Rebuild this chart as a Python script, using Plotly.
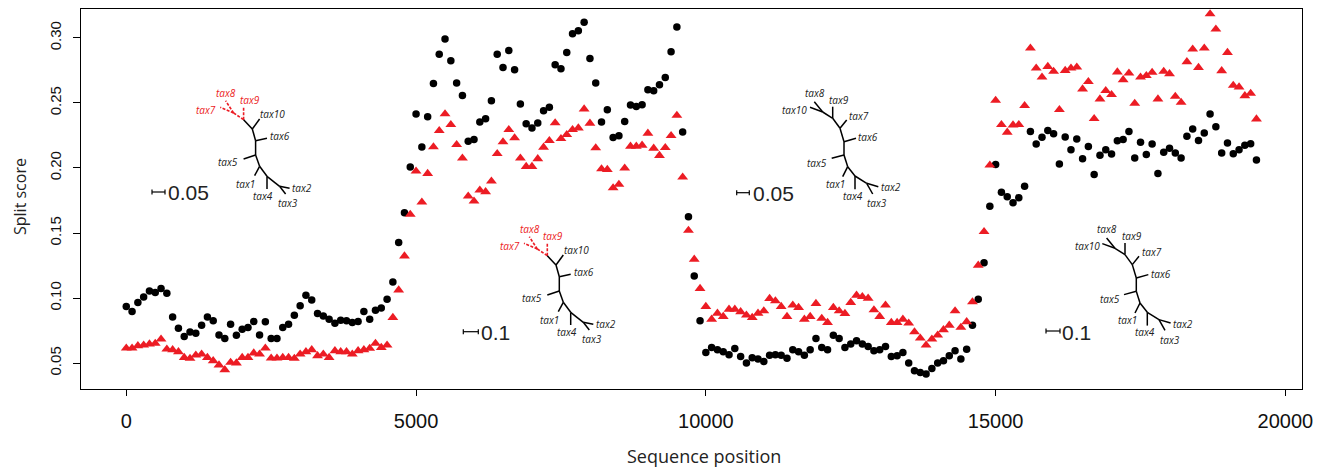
import plotly.graph_objects as go

# ---------------- data ----------------
positions = list(range(0, 19600, 100))

black_scores = [
    0.0935, 0.0896, 0.0965, 0.1009, 0.1055, 0.1042, 0.1073, 0.1037, 0.0855, 0.0768,
    0.0705, 0.0740, 0.0730, 0.0791, 0.0855, 0.0825, 0.0717, 0.0689, 0.0799, 0.0715,
    0.0761, 0.0774, 0.0820, 0.0717, 0.0817, 0.0689, 0.0689, 0.0774, 0.0799, 0.0868,
    0.0940, 0.1021, 0.0986, 0.0881, 0.0863, 0.0837, 0.0807, 0.0830, 0.0825, 0.0812,
    0.0820, 0.0896, 0.0837, 0.0906, 0.0924, 0.0991, 0.1124, 0.1428,
    0.1656, 0.2008, 0.2415, 0.2162, 0.2394, 0.2650, 0.2875, 0.2992, 0.2824, 0.2653,
    0.2558, 0.2205, 0.2218, 0.2353, 0.2379, 0.2517, 0.2875, 0.2772, 0.2903, 0.2755,
    0.2491, 0.2340, 0.2307, 0.2346, 0.2440, 0.2466, 0.2793, 0.2762, 0.2887, 0.3031,
    0.3054, 0.3120, 0.2841, 0.2653, 0.2353, 0.2448, 0.2235, 0.2248, 0.2358, 0.2484,
    0.2473, 0.2486, 0.2601, 0.2594, 0.2640, 0.2696, 0.2893, 0.3084, 0.2277, 0.1625,
    0.1170, 0.0825, 0.0582, 0.0620, 0.0602, 0.0587, 0.0564, 0.0613, 0.0551, 0.0500,
    0.0541, 0.0531, 0.0513, 0.0561, 0.0564, 0.0561, 0.0538, 0.0602, 0.0587, 0.0561,
    0.0602, 0.0689, 0.0620, 0.0602, 0.0715, 0.0689, 0.0620, 0.0646, 0.0671, 0.0646,
    0.0628, 0.0595, 0.0602, 0.0628, 0.0551, 0.0556, 0.0582, 0.0500, 0.0441, 0.0428,
    0.0416, 0.0459, 0.0500, 0.0518, 0.0556, 0.0595, 0.0531, 0.0607, 0.0791, 0.0991,
    0.1272,
    0.1706, 0.2026, 0.1814, 0.1778, 0.1732, 0.1771, 0.1860, 0.2281, 0.2185, 0.2236,
    0.2289, 0.2264, 0.2031, 0.2238, 0.2141, 0.2223, 0.2070, 0.2166, 0.1949, 0.2097,
    0.2141, 0.2108, 0.2210, 0.2218, 0.2281, 0.2077, 0.2197, 0.2103, 0.2185, 0.1957,
    0.2120, 0.2151, 0.2116, 0.2077, 0.2243, 0.2300, 0.2212, 0.2269, 0.2415, 0.2317,
    0.2116, 0.2192, 0.2110, 0.2141, 0.2174, 0.2187, 0.2062,
]

red_scores = [
    0.0615, 0.0615, 0.0633, 0.0638, 0.0646, 0.0651, 0.0684, 0.0607, 0.0602, 0.0587,
    0.0543, 0.0536, 0.0561, 0.0569, 0.0543, 0.0518, 0.0485, 0.0449, 0.0505, 0.0500,
    0.0543, 0.0543, 0.0577, 0.0569, 0.0615, 0.0538, 0.0538, 0.0543, 0.0543, 0.0536,
    0.0569, 0.0587, 0.0602, 0.0556, 0.0569, 0.0543, 0.0595, 0.0587, 0.0587, 0.0569,
    0.0595, 0.0602, 0.0613, 0.0651, 0.0620, 0.0638, 0.0850, 0.1062, 0.1323,
    0.1643, 0.1975, 0.1737, 0.1957, 0.2162, 0.2287, 0.2415, 0.2333, 0.2179, 0.2075,
    0.1783, 0.1745, 0.1829, 0.1817, 0.1898, 0.2110, 0.2200, 0.2294, 0.2231, 0.2075,
    0.2011, 0.2011, 0.2070, 0.2159, 0.2210, 0.2346, 0.2225, 0.2256, 0.2294, 0.2307,
    0.2453, 0.2343, 0.2154, 0.1993, 0.1988, 0.1847, 0.1873, 0.1998, 0.2167, 0.2167,
    0.2174, 0.2266, 0.2151, 0.2095, 0.2156, 0.2248, 0.2404, 0.1929, 0.1520,
    0.1298, 0.1073, 0.0935, 0.0837, 0.0883, 0.0858, 0.0914, 0.0914, 0.0894, 0.0868,
    0.0850, 0.0883, 0.0901, 0.0996, 0.0978, 0.0935, 0.0858, 0.0945, 0.0927, 0.0837,
    0.0858, 0.0958, 0.0843, 0.0812, 0.0927, 0.0901, 0.0881, 0.0965, 0.1021, 0.1011,
    0.0998, 0.0909, 0.0858, 0.0945, 0.0812, 0.0812, 0.0837, 0.0807, 0.0740, 0.0692,
    0.0638, 0.0684, 0.0715, 0.0756, 0.0791, 0.0901, 0.0774, 0.0817, 0.0970, 0.1252,
    0.1510,
    0.2021, 0.2519, 0.2333, 0.2274, 0.2330, 0.2333, 0.2479, 0.2921, 0.2767, 0.2698,
    0.2780, 0.2742, 0.2448, 0.2749, 0.2767, 0.2775, 0.2607, 0.2663, 0.2379, 0.2530,
    0.2594, 0.2563, 0.2737, 0.2678, 0.2729, 0.2496, 0.2698, 0.2709, 0.2734, 0.2530,
    0.2742, 0.2724, 0.2550, 0.2504, 0.2816, 0.2913, 0.2772, 0.2921, 0.3184, 0.3067,
    0.2747, 0.2887, 0.2634, 0.2622, 0.2555, 0.2573, 0.2376,
]

x_ticks = [0, 5000, 10000, 15000, 20000]
x_tick_labels = ["0", "5000", "10000", "15000", "20000"]
y_ticks = [0.05, 0.10, 0.15, 0.20, 0.25, 0.30]
y_tick_labels = ["0.05", "0.10", "0.15", "0.20", "0.25", "0.30"]

x_title = "Sequence position"
y_title = "Split score"

# ---------------- figure ----------------
W, H = 1326, 469
L, R, T, B = 81, 1302, 9, 389

RED = "#EC1C24"

fig = go.Figure()
fig.add_trace(go.Scatter(
    x=positions, y=black_scores, mode="markers",
    marker=dict(symbol="circle", size=7.5, color="black", line=dict(width=0)),
    showlegend=False, hoverinfo="x+y"))
fig.add_trace(go.Scatter(
    x=positions, y=red_scores, mode="markers",
    marker=dict(symbol="triangle-up", size=9.5, color=RED, line=dict(width=0)),
    showlegend=False, hoverinfo="x+y"))


def P(px, py):
    return (px - L) / (R - L), (B - py) / (B - T)


shapes = []
annotations = []


def seg(p0, p1, color="black", width=1.5, dash="solid"):
    x0, y0 = P(*p0)
    x1, y1 = P(*p1)
    shapes.append(dict(type="line", xref="paper", yref="paper",
                       x0=x0, y0=y0, x1=x1, y1=y1,
                       line=dict(color=color, width=width, dash=dash)))


def label(px, py, text, color="#222222", size=10, anchor="center",
          family="Open Sans", italic=True):
    x, y = P(px, py)
    annotations.append(dict(xref="paper", yref="paper", x=x, y=y,
                            text=("<i>%s</i>" % text) if italic else text,
                            showarrow=False, xanchor=anchor, yanchor="middle",
                            font=dict(family=family, size=size, color=color)))


# tree shape A (tax7/8/9 highlighted in red, dashed)
A_red = [((-10, -6.7), (-23.3, -12.4)), ((-10, -6.7), (-18, -19)),
         ((0, 0), (-10, -6.7)), ((0, 0), (0, -12.4))]
A_back = [(0, 0), (8.7, 9.3), (12, 21), (12, 35.3), (16, 46.6), (23.4, 56.6), (36, 66.6)]
A_br = [((8.7, 9.3), (16, -0.7)), ((12, 21), (23.4, 18.6)), ((12, 35.3), (0, 39.3)),
        ((16, 46.6), (11, 56)), ((23.4, 56.6), (23.4, 69.3)),
        ((36, 66.6), (46, 68.6)), ((36, 66.6), (42, 74.3))]
A_lab = [("tax8", -17.3, -26.7, True), ("tax7", -37.3, -9.7, True), ("tax9", 6, -20, True),
         ("tax10", 28.7, -5.7, False), ("tax6", 36.7, 16.6, False), ("tax5", -15.6, 42.6, False),
         ("tax1", 2, 64.3, False), ("tax4", 19.4, 76.6, False), ("tax2", 58.4, 68.3, False),
         ("tax3", 44.4, 83.6, False)]

# tree shape B (all black)
B_back = [(0, 0), (10, 6.3), (17.3, 16.3), (21.3, 29.7), (21.3, 43), (25, 54.7), (32.3, 64), (44, 71.3)]
B_br = [((0, 0), (-8.4, -10.3)), ((0, 0), (-12.7, -4.7)), ((10, 6.3), (10, -5.3)),
        ((17.3, 16.3), (24, 8)), ((21.3, 29.7), (33.3, 26.3)), ((21.3, 43), (9, 46.3)),
        ((25, 54.7), (20, 64.7)), ((32.3, 64), (32.3, 77.3)),
        ((44, 71.3), (55.6, 74.7)), ((44, 71.3), (50, 82))]
B_lab = [("tax8", -7.7, -19.3), ("tax10", -27.7, -2), ("tax9", 16.6, -12), ("tax7", 36.6, 4),
         ("tax6", 45.6, 25.3), ("tax5", -5.4, 50.7), ("tax1", 12.3, 72), ("tax4", 30, 84),
         ("tax2", 68, 75.3), ("tax3", 54.6, 91.3)]


def add_tree_A(ox, oy):
    for a, b in A_red:
        seg((ox + a[0], oy + a[1]), (ox + b[0], oy + b[1]), color=RED, width=1.6, dash="3px,1.5px")
    for p, q in zip(A_back[:-1], A_back[1:]):
        seg((ox + p[0], oy + p[1]), (ox + q[0], oy + q[1]))
    for a, b in A_br:
        seg((ox + a[0], oy + a[1]), (ox + b[0], oy + b[1]))
    for t, dx, dy, red in A_lab:
        label(ox + dx, oy + dy, t, color=RED if red else "#222222")


def add_tree_B(ox, oy):
    for p, q in zip(B_back[:-1], B_back[1:]):
        seg((ox + p[0], oy + p[1]), (ox + q[0], oy + q[1]))
    for a, b in B_br:
        seg((ox + a[0], oy + a[1]), (ox + b[0], oy + b[1]))
    for t, dx, dy in B_lab:
        label(ox + dx, oy + dy, t)


def add_scale(x0, x1, y, text, tx):
    seg((x0, y), (x1, y), width=1.2)
    seg((x0, y - 2.5), (x0, y + 2.5), width=1.2)
    seg((x1, y - 2.5), (x1, y + 2.5), width=1.2)
    label(tx, y + 1, text, color="#222222", size=21, anchor="left",
          family="Liberation Sans, Arial, sans-serif", italic=False)


add_tree_A(243.6, 119.7)
add_tree_A(547.3, 255.7)
add_tree_B(822.7, 112)
add_tree_B(1115, 248.3)
add_scale(152, 165, 192, "0.05", 166)
add_scale(463.3, 478.3, 331.7, "0.1", 478.5)
add_scale(736.7, 749.3, 192.7, "0.05", 751)
add_scale(1046, 1060, 331, "0.1", 1060)

# axis titles as annotations
tx, ty = P(704, 456)
annotations.append(dict(xref="paper", yref="paper", x=tx, y=ty, text=x_title,
                        showarrow=False, xanchor="center", yanchor="middle",
                        font=dict(family="Open Sans", size=18, color="#222222")))
tx, ty = P(20, 197)
annotations.append(dict(xref="paper", yref="paper", x=tx, y=ty, text=y_title,
                        showarrow=False, xanchor="center", yanchor="middle", textangle=-90,
                        font=dict(family="Open Sans", size=16, color="#222222")))

fig.update_layout(
    width=W, height=H,
    margin=dict(l=L, r=W - R, t=T, b=H - B, pad=0),
    paper_bgcolor="white", plot_bgcolor="white",
    shapes=shapes, annotations=annotations,
    showlegend=False,
)
fig.update_xaxes(
    range=[-781, 20286], tickvals=x_ticks, ticktext=x_tick_labels,
    showgrid=False, zeroline=False, showline=True, linecolor="black", linewidth=1.3,
    mirror=True, ticks="outside", ticklen=6, tickwidth=1, tickcolor="black",
    ticklabelstandoff=8,
    tickfont=dict(family="Liberation Sans, Arial, sans-serif", size=20, color="#111111"),
)
fig.update_yaxes(
    range=[0.0301, 0.3222], tickvals=y_ticks, ticktext=y_tick_labels,
    showgrid=False, zeroline=False, showline=True, linecolor="black", linewidth=1.3,
    mirror=True, ticks="outside", ticklen=7, tickwidth=1, tickcolor="black",
    tickangle=-90, ticklabelstandoff=6,
    tickfont=dict(family="Liberation Sans Narrow, Liberation Sans, Arial, sans-serif", size=15,
                  color="#111111"),
)

fig.write_html("out.html")
